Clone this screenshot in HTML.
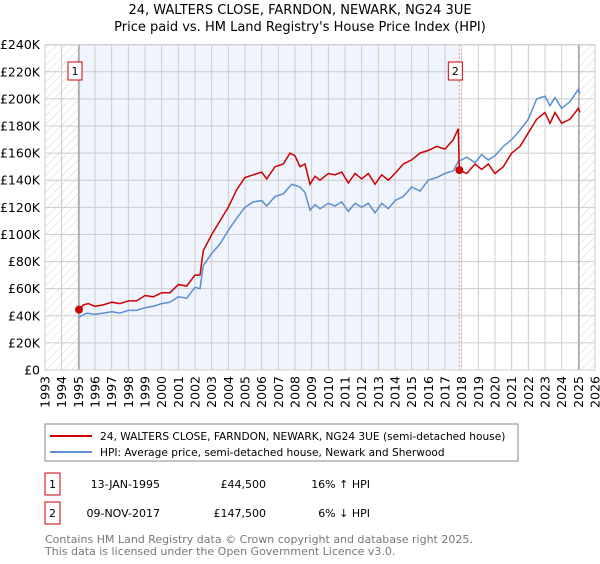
<!DOCTYPE html>
<html><head><meta charset="utf-8"><style>
body{margin:0;background:#fff;width:600px;height:560px;overflow:hidden;font-family:"DejaVu Sans","Liberation Sans",sans-serif}
svg text{font-family:"DejaVu Sans","Liberation Sans",sans-serif}
</style></head><body>
<svg id="chart" width="600" height="560">
<defs><pattern id="hatch" width="6" height="6" patternUnits="userSpaceOnUse" patternTransform="rotate(45)"><line x1="0" y1="0" x2="0" y2="6" stroke="#d4d4d4" stroke-width="1"/></pattern></defs>
<text x="300" y="14" text-anchor="middle" font-size="13" fill="#000">24, WALTERS CLOSE, FARNDON, NEWARK, NG24 3UE</text>
<text x="300" y="31" text-anchor="middle" font-size="13" fill="#000">Price paid vs. HM Land Registry's House Price Index (HPI)</text>
<g id="plot"></g>
<rect x="45" y="424" width="473" height="37" fill="#fff" stroke="#888"/>
<line x1="50" y1="436" x2="92" y2="436" stroke="#cc0000" stroke-width="2"/>
<text x="100" y="440" font-size="10.6">24, WALTERS CLOSE, FARNDON, NEWARK, NG24 3UE (semi-detached house)</text>
<line x1="50" y1="452" x2="92" y2="452" stroke="#5b8fd0" stroke-width="2"/>
<text x="100" y="456" font-size="10.6">HPI: Average price, semi-detached house, Newark and Sherwood</text>
<g>
<rect x="45" y="473" width="15" height="22" fill="#fff" stroke="#cc0000"/>
<text x="52.5" y="488" text-anchor="middle" font-size="11">1</text>
<text x="160" y="488" text-anchor="end" font-size="11">13-JAN-1995</text>
<text x="266" y="488" text-anchor="end" font-size="11">£44,500</text>
<text x="370" y="488" text-anchor="end" font-size="11">16% ↑ HPI</text></g>
<g>
<rect x="45" y="502" width="15" height="22" fill="#fff" stroke="#cc0000"/>
<text x="52.5" y="517" text-anchor="middle" font-size="11">2</text>
<text x="160" y="517" text-anchor="end" font-size="11">09-NOV-2017</text>
<text x="266" y="517" text-anchor="end" font-size="11">£147,500</text>
<text x="370" y="517" text-anchor="end" font-size="11">6% ↓ HPI</text></g>
<text x="45" y="543" font-size="11" fill="#777">Contains HM Land Registry data © Crown copyright and database right 2025.</text>
<text x="45" y="555" font-size="11" fill="#777">This data is licensed under the Open Government Licence v3.0.</text>
</svg>
<script>
const yearTicks=[1993,1994,1995,1996,1997,1998,1999,2000,2001,2002,2003,2004,2005,2006,2007,2008,2009,2010,2011,2012,2013,2014,2015,2016,2017,2018,2019,2020,2021,2022,2023,2024,2025,2026];
const valueTicks=[0,20,40,60,80,100,120,140,160,180,200,220,240];
const valueTickLabels=["£0","£20K","£40K","£60K","£80K","£100K","£120K","£140K","£160K","£180K","£200K","£220K","£240K"];
const priceYears=[1995.04,1995.3,1995.6,1996,1996.5,1997,1997.5,1998,1998.5,1999,1999.5,2000,2000.5,2001,2001.5,2002,2002.3,2002.5,2003,2003.5,2004,2004.5,2005,2005.5,2006,2006.3,2006.8,2007.3,2007.7,2008,2008.3,2008.6,2008.9,2009.2,2009.5,2010,2010.4,2010.8,2011.2,2011.6,2012,2012.4,2012.8,2013.2,2013.6,2014,2014.5,2015,2015.5,2016,2016.5,2017,2017.5,2017.8,2017.86,2018.3,2018.8,2019.2,2019.6,2020,2020.5,2021,2021.5,2022,2022.5,2023,2023.3,2023.6,2024,2024.5,2025,2025.1];
const priceValues=[44.5,48,49,47,48,50,49,51,51,55,54,57,57,63,62,70,70,88,100,110,120,133,142,144,146,141,150,152,160,158,150,152,137,143,140,145,144,146,138,145,141,145,137,144,140,145,152,155,160,162,165,163,170,178,147.5,145,152,148,152,145,150,160,165,175,185,190,182,190,182,185,193,190];
const hpiYears=[1995.04,1995.5,1996,1996.5,1997,1997.5,1998,1998.5,1999,1999.5,2000,2000.5,2001,2001.5,2002,2002.3,2002.5,2003,2003.5,2004,2004.5,2005,2005.5,2006,2006.3,2006.8,2007.3,2007.8,2008.3,2008.6,2008.9,2009.2,2009.5,2010,2010.4,2010.8,2011.2,2011.6,2012,2012.4,2012.8,2013.2,2013.6,2014,2014.5,2015,2015.5,2016,2016.5,2017,2017.5,2017.8,2018.3,2018.8,2019.2,2019.6,2020,2020.5,2021,2021.5,2022,2022.5,2023,2023.3,2023.6,2024,2024.5,2025,2025.1];
const hpiValues=[39,42,41,42,43,42,44,44,46,47,49,50,54,53,61,60,77,86,93,103,112,120,124,125,121,128,130,137,135,131,118,122,119,123,121,124,117,123,120,123,116,123,119,125,128,135,132,140,142,145,147,154,157,153,159,155,158,165,170,177,185,200,202,195,201,193,198,207,204];
const sales=[[1995.04,44.5,"1"],[2017.86,147.5,"2"]];
const X0=45,X1=595,Y0=370,Y1=44.7,ymax=240;
const xs=y=>X0+(y-1993)/(2026-1993)*(X1-X0);
const ys=v=>Y0-v/ymax*(Y0-Y1);
const NS="http://www.w3.org/2000/svg";
const g=document.getElementById('plot');
function mk(t,a,p){const e=document.createElementNS(NS,t);for(const k in a)e.setAttribute(k,a[k]);(p||g).appendChild(e);return e;}
const hatchEnd=2025.04;
let e;
e=mk('rect',{x:X0,y:Y1,width:X1-X0,height:Y0-Y1,fill:'#fff'});
e=mk('rect',{x:xs(sales[0][0]),y:Y1,width:xs(sales[1][0])-xs(sales[0][0]),height:Y0-Y1,fill:'#f0f4fd'});


e=mk('rect',{x:X0,y:Y1,width:xs(sales[0][0])-X0,height:Y0-Y1,fill:'url(#hatch)'});


e=mk('rect',{x:xs(hatchEnd),y:Y1,width:X1-xs(hatchEnd),height:Y0-Y1,fill:'url(#hatch)'});


yearTicks.forEach(y=>{e=mk('line',{x1:xs(y),x2:xs(y),y1:Y1,y2:Y0,stroke:'#ccc'});

const t=mk('text',{transform:`translate(${xs(y)+4.5},${Y0+6}) rotate(-90)`,'text-anchor':'end','font-size':'12.5'});t.textContent=y;

});
valueTicks.forEach((v,i)=>{e=mk('line',{x1:X0,x2:X1,y1:ys(v),y2:ys(v),stroke:'#ccc'});

const t=mk('text',{x:X0-5,y:ys(v)+4.5,'text-anchor':'end','font-size':'12.5'});t.textContent=valueTickLabels[i];

});
e=mk('line',{x1:xs(sales[0][0]),x2:xs(sales[0][0]),y1:Y1,y2:Y0,stroke:'#888'});

e=mk('line',{x1:xs(sales[1][0]),x2:xs(sales[1][0]),y1:Y1,y2:Y0,stroke:'#f08080','stroke-dasharray':'2,2'});

e=mk('line',{x1:xs(hatchEnd),x2:xs(hatchEnd),y1:Y1,y2:Y0,stroke:'#888'});

const pts=(xa,va)=>xa.map((y,i)=>xs(y).toFixed(1)+','+ys(va[i]).toFixed(1)).join(' ');
e=mk('polyline',{points:pts(hpiYears,hpiValues),fill:'none',stroke:'#5b8fd0','stroke-width':1.5});

e=mk('polyline',{points:pts(priceYears,priceValues),fill:'none',stroke:'#cc0000','stroke-width':1.5});

sales.forEach(s=>{e=mk('circle',{cx:xs(s[0]),cy:ys(s[1]),r:4,fill:'#cc0000'});

e=mk('rect',{x:xs(s[0])-11,y:62,width:14,height:18,fill:'#fff',stroke:'#cc0000'});

const t=mk('text',{x:xs(s[0])-4,y:75,'text-anchor':'middle','font-size':'11'});t.textContent=s[2];
});
e=mk('rect',{x:X0,y:Y1,width:X1-X0,height:Y0-Y1,fill:'none',stroke:'#ccc'});
</script>
</body></html>
